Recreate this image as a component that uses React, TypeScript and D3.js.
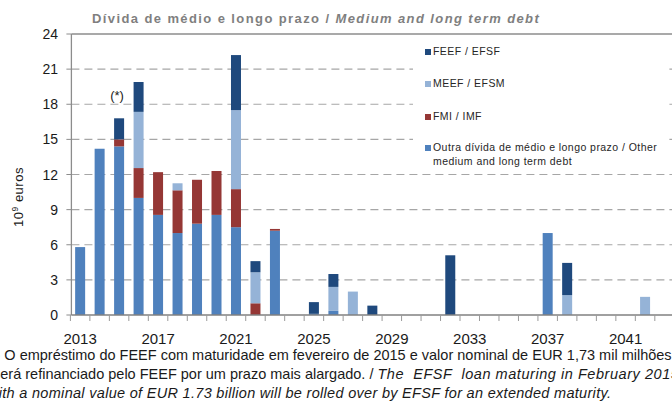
import React from 'react';
import * as d3 from 'd3';

// categories (maturity year)
const years = [
  2013, 2014, 2015, 2016, 2017, 2018, 2019, 2020, 2021, 2022,
  2023, 2024, 2025, 2026, 2027, 2028, 2029, 2030, 2031, 2032,
  2033, 2034, 2035, 2036, 2037, 2038, 2039, 2040, 2041, 2042,
];

// series values, 10^9 euros
const other = [5.8, 14.2, 14.4, 10.0, 8.55, 7.0, 7.8, 8.55, 7.5, 0, 7.2, 0, 0.1, 0.35, 0, 0, 0, 0, 0, 0, 0, 0, 0, 0, 7.0, 0, 0, 0, 0, 0];
const imf = [0, 0, 0.6, 2.55, 3.65, 3.65, 3.75, 3.75, 3.25, 1.0, 0.15, 0, 0, 0, 0, 0, 0, 0, 0, 0, 0, 0, 0, 0, 0, 0, 0, 0, 0, 0];
const efsm = [0, 0, 0, 4.8, 0, 0.6, 0, 0, 6.75, 2.65, 0, 0, 0, 2.05, 2.0, 0, 0, 0, 0, 0, 0, 0, 0, 0, 0, 1.7, 0, 0, 0, 1.55];
const efsf = [0, 0, 1.8, 2.55, 0, 0, 0, 0, 4.7, 0.95, 0, 0, 1.0, 1.1, 0, 0.8, 0, 0, 0, 5.1, 0, 0, 0, 0, 0, 2.75, 0, 0, 0, 0];

const yTicks = [0, 3, 6, 9, 12, 15, 18, 21, 24];
const xLabels = [2013, 2017, 2021, 2025, 2029, 2033, 2037, 2041];

const seriesKeys = ['other', 'imf', 'efsm', 'efsf'];
const colors: Record<string, string> = {
  other: '#4F81BD',
  imf: '#953735',
  efsm: '#95B3D7',
  efsf: '#1F497D',
};

const legendItems = [
  { key: 'efsf', lines: ['FEEF / EFSF'] },
  { key: 'efsm', lines: ['MEEF / EFSM'] },
  { key: 'imf', lines: ['FMI / IMF'] },
  { key: 'other', lines: ['Outra dívida de médio e longo prazo / Other', 'medium and long term debt'] },
];

const font = 'Liberation Sans, Arial, sans-serif';

export default function App() {
  const width = 672;
  const height = 401;
  const top = 34;
  const bottom = 315;

  const table = years.map((yr, i) => ({
    year: yr,
    other: other[i],
    imf: imf[i],
    efsm: efsm[i],
    efsf: efsf[i],
  }));
  const stacked = d3.stack<any>().keys(seriesKeys)(table);

  // one band per year, scale gives the band's left edge
  const x = d3.scaleLinear().domain([2013, 2044]).range([70.4, 674.3]);
  const band = x(2014) - x(2013);
  const barW = 10;
  const y = d3.scaleLinear().domain([0, 24]).range([bottom, top]);
  const axisX = x(2013) + 1;

  return (
    <svg width={width} height={height} style={{ position: 'absolute', left: 0, top: 0, background: '#fff' }}>
      {/* title */}
      <text x={92} y={22.5} fontFamily={font} fontSize={13} fontWeight="bold" letterSpacing={1.4} fill="#7f7f7f">
        Dívida de médio e longo prazo /{' '}
        <tspan fontStyle="italic">Medium and long term debt</tspan>
      </text>

      {/* grid */}
      {yTicks.filter(t => t > 0).map(t => (
        <line key={t} x1={axisX} x2={width} y1={y(t)} y2={y(t)}
          stroke={t === 24 ? '#8c8c8c' : '#a6a6a6'} strokeWidth={t === 24 ? 1.3 : 1.2}
          strokeDasharray={t === 24 ? undefined : '8,5'} />
      ))}

      {/* legend box */}
      <rect x={413} y={37} width={256} height={135} fill="#fff" />
      {legendItems.map((it, i) => {
        const ly = [51, 83, 116, 147][i];
        return (
          <g key={it.key}>
            <rect x={425} y={ly - 2} width={6} height={6} fill={colors[it.key]} />
            {it.lines.map((ln, j) => (
              <text key={j} x={433} y={ly + 4 + j * 14} fontFamily={font} fontSize={10.5}
                letterSpacing={0.45} fill="#262626">{ln}</text>
            ))}
          </g>
        );
      })}

      {/* bars */}
      {stacked.map(s => (
        <g key={s.key} fill={colors[s.key]}>
          {s.map((d, i) => d[1] - d[0] > 0 ? (
            <rect key={i}
              x={x(years[i]) + (band - barW) / 2}
              y={y(d[1])}
              width={barW}
              height={y(d[0]) - y(d[1])} />
          ) : null)}
        </g>
      ))}

      {/* y axis */}
      <line x1={axisX} x2={axisX} y1={top} y2={bottom} stroke="#8c8c8c" strokeWidth={1.3} />
      {yTicks.map(t => (
        <g key={t}>
          <line x1={axisX - 5} x2={axisX} y1={y(t)} y2={y(t)} stroke="#8c8c8c" />
          <text x={58} y={y(t) + 5} textAnchor="end" fontFamily={font} fontSize={14} fill="#1a1a1a">{t}</text>
        </g>
      ))}
      <text transform="translate(23,197) rotate(-90)" textAnchor="middle"
        fontFamily={font} fontSize={13} letterSpacing={0.5} fill="#1a1a1a">
        10<tspan fontSize={8.5} dy={-5}>9</tspan><tspan dy={5}> euros</tspan>
      </text>

      {/* x axis */}
      <line x1={axisX} x2={width} y1={bottom} y2={bottom} stroke="#808080" strokeWidth={1.6} />
      {d3.range(2013, 2045).map(t => (
        <line key={t} x1={x(t)} x2={x(t)} y1={bottom} y2={bottom + 6} stroke="#9a9a9a" />
      ))}
      {xLabels.map(t => (
        <text key={t} x={x(t) + band / 2} y={344} textAnchor="middle" fontFamily={font} fontSize={15} fill="#1a1a1a">{t}</text>
      ))}

      {/* annotation */}
      <text x={x(2015) + band / 2 - 2} y={100} textAnchor="middle" fontFamily={font} fontSize={13} fill="#1a1a1a">(*)</text>

      {/* footnote */}
      <text x={-15} y={360} fontFamily={font} fontSize={14.5} fill="#1a1a1a">
        (*) O empréstimo do FEEF com maturidade em fevereiro de 2015 e valor nominal de EUR 1,73 mil milhões
      </text>
      <text x={-7} y={379} fontFamily={font} fontSize={14.5} fill="#1a1a1a" xmlSpace="preserve">
        {'será refinanciado pelo FEEF por um prazo mais alargado. / '}
        <tspan fontStyle="italic" letterSpacing={0.55}>{'The  EFSF  loan maturing in February 2015'}</tspan>
      </text>
      <text x={-12} y={398} fontFamily={font} fontSize={14.5} fontStyle="italic" letterSpacing={0.3} fill="#1a1a1a">
        with a nominal value of EUR 1.73 billion will be rolled over by EFSF for an extended maturity.
      </text>
    </svg>
  );
}
